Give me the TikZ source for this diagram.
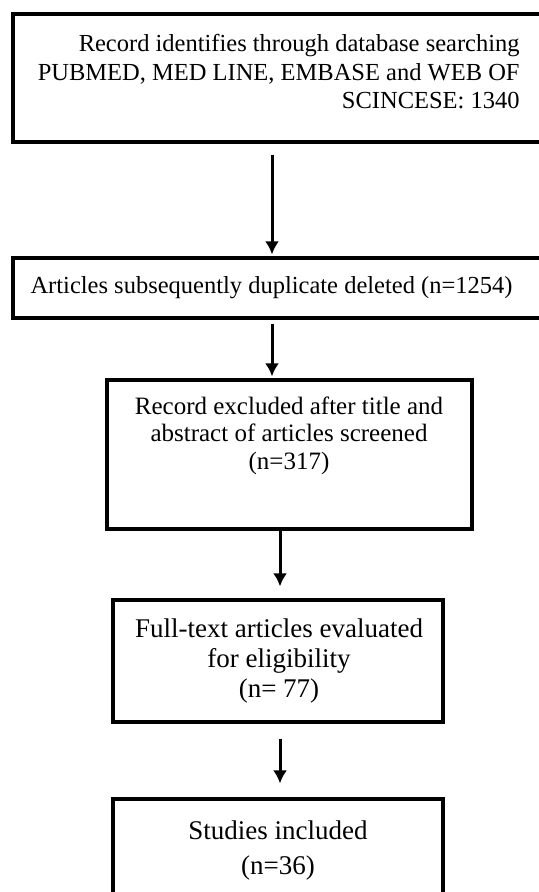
\documentclass[tikz,border=0pt]{standalone}
\usepackage{fontspec}
\setmainfont{Liberation Serif}
\usetikzlibrary{arrows.meta}
\usetikzlibrary{calc}

\begin{document}
\begin{tikzpicture}[x=0.5pt, y=-0.5pt,
  line/.style={>={Latex[length=6.5pt,width=7pt]}, line width=1.5pt},
  box/.style={draw, line width=1.6pt, inner sep=0pt},
  txt/.style={inner sep=0pt, align=center, font=\fontsize{12.25}{14.25}\selectfont}]
\useasboundingbox (0, 0) rectangle (538, 892);

\coordinate (X1) at (272, 0);
\coordinate (X2) at (280, 0);

% frames
\node[box, minimum width=273.5pt, minimum height=64pt] (B1) at (286.5, 78) {};
\node[box, minimum width=273.5pt, minimum height=30pt] (B2) at (286.5, 288) {};
\node[box, minimum width=182.5pt, minimum height=74.5pt] (B3) at (289.5, 454.5) {};
\node[box, minimum width=165pt, minimum height=61pt] (B4) at (278, 661) {};
\node[box, minimum width=165pt, minimum height=58pt] (B5) at (278, 857) {};

% texts
\node[txt, align=right, anchor=north east] (T1) at (520, 34)
  {Record identifies through database searching\\
   PUBMED, MED LINE, EMBASE and WEB OF\\ SCINCESE: 1340};
\node[txt] (T2) at (271.5, 288) {Articles subsequently duplicate deleted (n=1254)};
\node[txt, anchor=north, font=\fontsize{12.5}{13.75}\selectfont] (T3) at (289, 396)
  {Record excluded after title and\\ abstract of articles screened\\ (n=317)};
\node[txt, anchor=north, font=\fontsize{13.5}{15}\selectfont] (T4) at (279, 618)
  {Full-text articles evaluated\\ for eligibility\\ (n= 77)};
\node[txt, anchor=north, font=\fontsize{13.5}{17.5}\selectfont] (T5) at (278, 820)
  {Studies included\\ (n=36)};

\draw[->, line, shorten <=5.5pt, shorten >=1pt] (B1.south -| X1) -- (B2.north -| X1);
\draw[->, line, shorten <=2pt, shorten >=1pt] (B2.south -| X1) -- (B3.north -| X1);
\draw[->, line, shorten >=6pt] (B3.south -| X2) -- (B4.north -| X2);
\draw[->, line, shorten <=7.5pt, shorten >=7pt] (B4.south -| X2) -- (B5.north -| X2);
\end{tikzpicture}
\end{document}
